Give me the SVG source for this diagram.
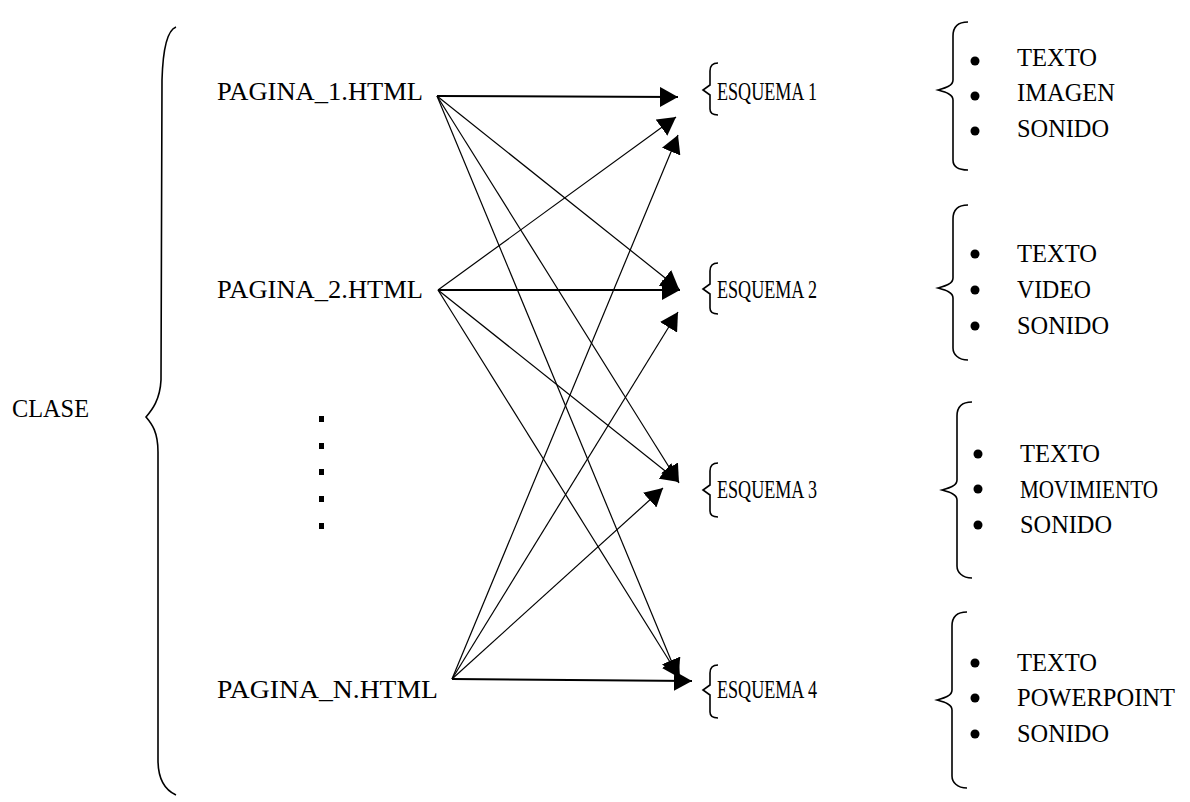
<svg xmlns="http://www.w3.org/2000/svg" width="1190" height="802" viewBox="0 0 1190 802">
<style>
text{font-family:"Liberation Serif","Times New Roman",serif;font-size:25px;fill:#000}
.br{fill:none;stroke:#000;stroke-width:1.6}
.ln{stroke:#000;stroke-width:1.2;fill:none}
.hl{stroke:#000;stroke-width:2;fill:none}
.dot{fill:#000}
</style>
<defs>
<marker id="ah" viewBox="0 0 18 20" refX="18" refY="10" markerWidth="18" markerHeight="20" markerUnits="userSpaceOnUse" orient="auto">
<path d="M0,0 L18,10 L0,20 Z" fill="#000"/>
</marker>
</defs>
<rect width="1190" height="802" fill="#fff"/>
<g id="clase">
<text x="12" y="417" textLength="77" lengthAdjust="spacingAndGlyphs">CLASE</text>
<path class="br" d="M176,27 C168,30 163,45 162,80 L161,380 C160,400 152,410 146,417 C152,424 158,432 158,452 L158,760 C158,780 165,790 176,795"/>
</g>
<g id="pagina1"><text x="217" y="100" textLength="206" lengthAdjust="spacingAndGlyphs">PAGINA_1.HTML</text></g>
<g id="pagina2"><text x="217" y="298" textLength="206" lengthAdjust="spacingAndGlyphs">PAGINA_2.HTML</text></g>
<g id="ellipsis">
<rect class="dot" x="319" y="416" width="5" height="6"/>
<rect class="dot" x="319" y="443" width="5" height="6"/>
<rect class="dot" x="319" y="469" width="5" height="6"/>
<rect class="dot" x="319" y="496" width="5" height="6"/>
<rect class="dot" x="319" y="523" width="5" height="6"/>
</g>
<g id="paginaN"><text x="217" y="698" textLength="221" lengthAdjust="spacingAndGlyphs">PAGINA_N.HTML</text></g>
<g id="connectors">
<line class="hl" x1="437" y1="96" x2="678" y2="97" marker-end="url(#ah)"/>
<line class="ln" x1="437" y1="96" x2="679" y2="289" marker-end="url(#ah)"/>
<line class="ln" x1="437" y1="96" x2="679" y2="483" marker-end="url(#ah)"/>
<line class="ln" x1="437" y1="96" x2="678" y2="677" marker-end="url(#ah)"/>
<line class="ln" x1="438" y1="290" x2="676" y2="117" marker-end="url(#ah)"/>
<line class="hl" x1="438" y1="290" x2="680" y2="290" marker-end="url(#ah)"/>
<line class="ln" x1="438" y1="290" x2="679" y2="482" marker-end="url(#ah)"/>
<line class="ln" x1="438" y1="290" x2="680" y2="678" marker-end="url(#ah)"/>
<line class="ln" x1="452" y1="679" x2="678" y2="135" marker-end="url(#ah)"/>
<line class="ln" x1="452" y1="679" x2="678" y2="312" marker-end="url(#ah)"/>
<line class="ln" x1="452" y1="679" x2="663" y2="488" marker-end="url(#ah)"/>
<line class="hl" x1="452" y1="679" x2="692" y2="681" marker-end="url(#ah)"/>
</g>
<g id="esquema1">
<path class="br" d="M718,63 C712,63 710,66 710,71 L710,85 L703,90 L710,95 L710,109 C710,113 712,115 718,115"/>
<text x="717" y="100" textLength="100" lengthAdjust="spacingAndGlyphs">ESQUEMA 1</text>
</g>
<g id="esquema2">
<path class="br" d="M718,263 C712,263 710,266 710,271 L710,284 L703,289 L710,294 L710,308 C710,312 712,314 718,314"/>
<text x="717" y="298" textLength="100" lengthAdjust="spacingAndGlyphs">ESQUEMA 2</text>
</g>
<g id="esquema3">
<path class="br" d="M718,463 C712,463 710,466 710,471 L710,485 L703,490 L710,495 L710,511 C710,515 712,517 718,517"/>
<text x="717" y="498" textLength="100" lengthAdjust="spacingAndGlyphs">ESQUEMA 3</text>
</g>
<g id="esquema4">
<path class="br" d="M718,665 C712,665 710,668 710,673 L710,685 L703,690 L710,695 L710,712 C710,716 712,718 718,718"/>
<text x="717" y="698" textLength="100" lengthAdjust="spacingAndGlyphs">ESQUEMA 4</text>
</g>
<g id="lista1">
<path class="br" d="M968,22 C958,22 953,26 953,36 L953,80 C953,86 945,88 938,90 C945,92 953,94 953,100 L953,160 C953,166 958,170 968,170"/>
<circle class="dot" cx="975" cy="61" r="4.5"/>
<circle class="dot" cx="975" cy="96" r="4.5"/>
<circle class="dot" cx="975" cy="131" r="4.5"/>
<text x="1017" y="66" textLength="80" lengthAdjust="spacingAndGlyphs">TEXTO</text>
<text x="1017" y="101" textLength="98" lengthAdjust="spacingAndGlyphs">IMAGEN</text>
<text x="1017" y="137" textLength="92" lengthAdjust="spacingAndGlyphs">SONIDO</text>
</g>
<g id="lista2">
<path class="br" d="M968,205 C958,205 953,209 953,219 L953,278 C953,284 945,286 938,288 C945,290 953,292 953,298 L953,348 C953,354 958,360 968,360"/>
<circle class="dot" cx="975" cy="254" r="4.5"/>
<circle class="dot" cx="975" cy="290" r="4.5"/>
<circle class="dot" cx="975" cy="326" r="4.5"/>
<text x="1017" y="262" textLength="80" lengthAdjust="spacingAndGlyphs">TEXTO</text>
<text x="1017" y="298" textLength="74" lengthAdjust="spacingAndGlyphs">VIDEO</text>
<text x="1017" y="334" textLength="92" lengthAdjust="spacingAndGlyphs">SONIDO</text>
</g>
<g id="lista3">
<path class="br" d="M972,402 C962,402 957,406 957,416 L957,480 C957,486 949,488 942,490 C949,492 957,494 957,500 L957,566 C957,572 962,578 972,578"/>
<circle class="dot" cx="978" cy="454" r="4.5"/>
<circle class="dot" cx="978" cy="489" r="4.5"/>
<circle class="dot" cx="978" cy="525" r="4.5"/>
<text x="1020" y="462" textLength="80" lengthAdjust="spacingAndGlyphs">TEXTO</text>
<text x="1020" y="498" textLength="138" lengthAdjust="spacingAndGlyphs">MOVIMIENTO</text>
<text x="1020" y="533" textLength="92" lengthAdjust="spacingAndGlyphs">SONIDO</text>
</g>
<g id="lista4">
<path class="br" d="M967,612 C957,612 952,616 952,626 L952,690 C952,696 944,698 937,700 C944,702 952,704 952,710 L952,776 C952,782 957,788 967,788"/>
<circle class="dot" cx="975" cy="663" r="4.5"/>
<circle class="dot" cx="975" cy="698" r="4.5"/>
<circle class="dot" cx="975" cy="734" r="4.5"/>
<text x="1017" y="671" textLength="80" lengthAdjust="spacingAndGlyphs">TEXTO</text>
<text x="1017" y="706" textLength="158" lengthAdjust="spacingAndGlyphs">POWERPOINT</text>
<text x="1017" y="742" textLength="92" lengthAdjust="spacingAndGlyphs">SONIDO</text>
</g>
</svg>
